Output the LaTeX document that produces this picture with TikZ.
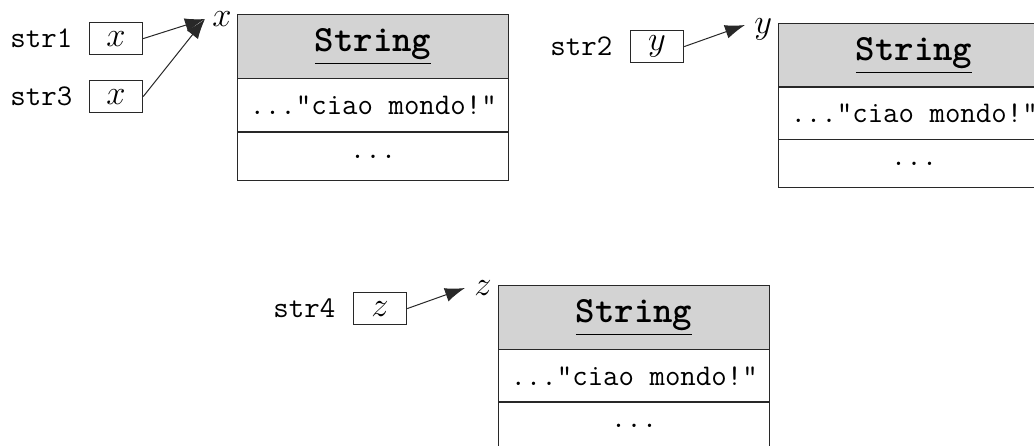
\documentclass[tikz,border=0pt]{standalone}
\usepackage{fontspec}
\usetikzlibrary{arrows.meta}
\definecolor{hdr}{RGB}{211,211,211}
\definecolor{ln}{RGB}{40,40,40}
\tikzset{
  lbl/.style={font=\fontsize{15}{16}\selectfont\ttfamily, inner sep=0pt, anchor=west},
  ref/.style={draw=ln, line width=0.6pt, minimum width=26.5pt, minimum height=16pt, inner sep=0pt, anchor=north west, font=\fontsize{16}{18}\selectfont},
  hd/.style={draw=ln, fill=hdr, line width=0.6pt, minimum width=135.5pt, minimum height=32pt, inner sep=0pt, anchor=north west, font=\fontsize{18.5}{20}\selectfont\ttfamily\bfseries},
  rowa/.style={draw=ln, line width=0.6pt, minimum width=135.5pt, minimum height=26.5pt, inner sep=0pt, anchor=north west, font=\fontsize{15}{16}\selectfont\ttfamily},
  rowb/.style={draw=ln, line width=0.6pt, minimum width=135.5pt, minimum height=24pt, inner sep=0pt, anchor=north west, font=\fontsize{15}{16}\selectfont\ttfamily},
  var/.style={inner sep=0pt, anchor=base west, font=\fontsize{16}{18}\selectfont},
  ptr/.style={draw=ln, line width=0.5pt, -{Latex[length=10pt,width=7pt]}},
}
\begin{document}
\begin{tikzpicture}[x=0.5pt,y=-0.5pt]
\useasboundingbox (0,0) rectangle (1034,445);
% object x
\node[hd] (h1) at (237,14) {\underline{String}};
\node[rowa] (r1a) at (237,78) {..."ciao mondo!"};
\node[rowb] (r1b) at (237,132) {...};
\coordinate (tx) at (205,19);
\node[var] (vx) at (212,26) {$x$};
% object y
\node[hd] (h2) at (778,23) {\underline{String}};
\node[rowa] (r2a) at (778,86) {..."ciao mondo!"};
\node[rowb] (r2b) at (778,139) {...};
\coordinate (ty) at (745,25);
\node[var] (vy) at (754,33) {$y$};
% object z
\node[hd] (h3) at (498,285) {\underline{String}};
\node[rowa] (r3a) at (498,349) {..."ciao mondo!"};
\node[rowb] (r3b) at (498,401) {...};
\coordinate (tz) at (465,288);
\node[var] (vz) at (474,295) {$z$};
% references
\node[ref] (b1) at (89,22) {$x$};
\node[lbl] (l1) at (10,38) {str1};
\node[ref] (b3) at (89,80) {$x$};
\node[lbl] (l3) at (10,96) {str3};
\node[ref] (b2) at (630,30) {$y$};
\node[lbl] (l2) at (550,46) {str2};
\node[ref] (b4) at (353,292) {$z$};
\node[lbl] (l4) at (273,308) {str4};
% pointers
\draw[ptr] (b1.east) -- (tx);
\draw[ptr] (b3.east) -- (tx);
\draw[ptr] (b2.east) -- (ty);
\draw[ptr] (b4.east) -- (tz);
\end{tikzpicture}
\end{document}
